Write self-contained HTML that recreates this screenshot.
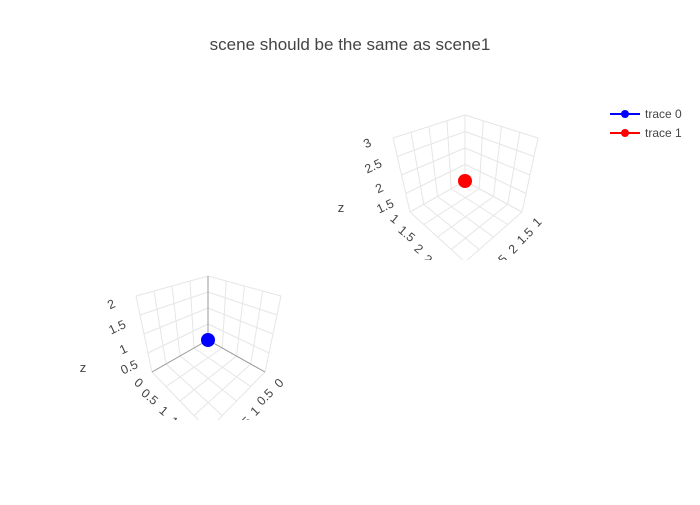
<!DOCTYPE html>
<html><head><meta charset="utf-8"><style>
body{margin:0;background:#fff}
svg text{font-family:"Liberation Sans",sans-serif;fill:#444}
</style></head><body>
<svg id="c" width="700" height="500" viewBox="0 0 700 500">
<text x="350" y="50" text-anchor="middle" font-size="17">scene should be the same as scene1</text>
<defs>
<clipPath id="clip1"><rect x="330" y="80" width="260" height="180"/></clipPath>
<clipPath id="clip2"><rect x="60" y="245" width="260" height="175"/></clipPath>
</defs>
<g id="s1" clip-path="url(#clip1)"></g>
<g id="s2" clip-path="url(#clip2)"></g>
<g>
<g><line x1="610" y1="114" x2="640" y2="114" stroke="#0000ff" stroke-width="2"/><circle cx="625" cy="114" r="4" fill="#0000ff"/><text x="645" y="118" font-size="12">trace 0</text></g>
<g><line x1="610" y1="133" x2="640" y2="133" stroke="#ff0000" stroke-width="2"/><circle cx="625" cy="133" r="4" fill="#ff0000"/><text x="645" y="137" font-size="12">trace 1</text></g>
</g>
</svg>
<script>
const traceNames=["trace 0","trace 1"];
const traceX=[1,2];
const traceY=[1,2];
const traceZ=[1,2];
const traceColors=["#0000ff","#ff0000"];
const scene1ZTicks=["1.5","2","2.5","3"];
const scene1LTicks=["1","1.5","2","2.5"];
const scene1RTicks=["1","1.5","2","2.5"];
const scene2ZTicks=["0.5","1","1.5","2"];
const scene2LTicks=["0","0.5","1","1.5"];
const scene2RTicks=["0","0.5","1","1.5"];
const NS="http://www.w3.org/2000/svg";
function mk(t,a,p){const e=document.createElementNS(NS,t);for(const k in a)e.setAttribute(k,a[k]);p.appendChild(e);return e;}
function lerp(a,b,t){return [a[0]+(b[0]-a[0])*t,a[1]+(b[1]-a[1])*t];}
function bil(p00,p10,p01,p11,u,v){return lerp(lerp(p00,p10,u),lerp(p01,p11,u),v);}
function scene(g,C,range,zt,lt,rt,ztp,ltp,rtp,title,dark,trace){
  const floor=(u,v)=>bil(C.B,C.R,C.L,C.F,u,v);
  const top=(u,v)=>bil(C.Bt,C.Rt,C.Lt,C.Ft,u,v);
  const P=(u,v,w)=>lerp(floor(u,v),top(u,v),w);
  const grid="#e6e6e6";
  const n=4;
  for(let i=0;i<=n;i++){const t=i/n;
    let a=P(t,0,0),b=P(t,1,0);let l=mk('line',{x1:a[0],y1:a[1],x2:b[0],y2:b[1],stroke:grid},g);
    
    a=P(0,t,0);b=P(1,t,0);l=mk('line',{x1:a[0],y1:a[1],x2:b[0],y2:b[1],stroke:grid},g);
    
    a=P(t,0,0);b=P(t,0,1);l=mk('line',{x1:a[0],y1:a[1],x2:b[0],y2:b[1],stroke:grid},g);
    
    a=P(0,0,t);b=P(1,0,t);l=mk('line',{x1:a[0],y1:a[1],x2:b[0],y2:b[1],stroke:grid},g);
    
    a=P(0,t,0);b=P(0,t,1);l=mk('line',{x1:a[0],y1:a[1],x2:b[0],y2:b[1],stroke:grid},g);
    
    a=P(0,0,t);b=P(0,1,t);l=mk('line',{x1:a[0],y1:a[1],x2:b[0],y2:b[1],stroke:grid},g);
    
  }
  if(dark){[[P(0,0,0),P(0,0,1)],[P(0,0,0),P(1,0,0)],[P(0,0,0),P(0,1,0)]].forEach(s=>{
    const l=mk('line',{x1:s[0][0],y1:s[0][1],x2:s[1][0],y2:s[1][1],stroke:'#999'},g);
    });}
  zt.forEach((s,i)=>{const p=ztp[i];const t=mk('text',{x:p[0],y:p[1],'font-size':12.5,'text-anchor':'middle',transform:`rotate(-25 ${p[0]} ${p[1]})`},g);t.textContent=s;
    });
  lt.forEach((s,i)=>{const p=ltp[i];const t=mk('text',{x:p[0],y:p[1],'font-size':12.5,'text-anchor':'middle',transform:`rotate(40 ${p[0]} ${p[1]})`},g);t.textContent=s;
    });
  rt.forEach((s,i)=>{const p=rtp[i];const t=mk('text',{x:p[0],y:p[1],'font-size':12.5,'text-anchor':'middle',transform:`rotate(-45 ${p[0]} ${p[1]})`},g);t.textContent=s;
    });
  const tt=mk('text',{x:title[0],y:title[1],'font-size':13,'text-anchor':'middle'},g);tt.textContent='z';
  
  const i=trace;
  const u=(traceX[i]-range[0])/(range[1]-range[0]),v=(traceY[i]-range[0])/(range[1]-range[0]),w=(traceZ[i]-range[0])/(range[1]-range[0]);
  const p=P(u,v,w);
  const c=mk('circle',{cx:p[0],cy:p[1],r:7,fill:traceColors[i]},g);
  
}
scene(document.getElementById('s1'),
 {B:[465,181],R:[522,212],L:[410,212],F:[465,262],Bt:[465,115],Rt:[538,138],Lt:[393,138],Ft:[465,185]},
 [2,4],scene1ZTicks,scene1LTicks,scene1RTicks,
 [[387,210],[381,192],[375,170],[369,147]],
 [[392,222],[404,237],[416,252],[429,266]],
 [[540,225],[528,239],[516,252],[502,266]],
 [341,212],false,1);
scene(document.getElementById('s2'),
 {B:[208,340],R:[265,372],L:[152,372],F:[208,430],Bt:[208,276],Rt:[281,296],Lt:[136,296],Ft:[208,345]},
 [1,3],scene2ZTicks,scene2LTicks,scene2RTicks,
 [[131,371],[125,353],[119,331],[113,308]],
 [[136,386],[147,400],[161,414],[175,428]],
 [[282,386],[268,400],[258,414],[246,428]],
 [83,372],true,0);
</script>
</body></html>
